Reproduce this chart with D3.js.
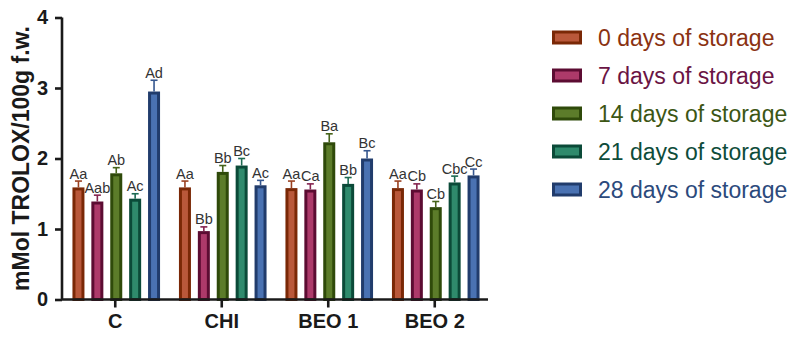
<!DOCTYPE html>
<html>
<head>
<meta charset="utf-8">
<script src="https://cdn.jsdelivr.net/npm/d3@7"></script>
<style>
  html, body { margin: 0; padding: 0; background: #fff; }
  svg { display: block; font-family: "Liberation Sans", Arial, sans-serif; }
</style>
</head>
<body>
<svg id="chart" width="790" height="337"></svg>
<script>
// Antioxidant capacity by treatment and storage time
const categories = ["C", "CHI", "BEO 1", "BEO 2"];
const seriesNames = ["0 days of storage", "7 days of storage", "14 days of storage", "21 days of storage", "28 days of storage"];

// mean values, one array per storage time (order follows categories)
const day0  = [1.59, 1.59, 1.58, 1.58];
const day7  = [1.39, 0.97, 1.56, 1.56];
const day14 = [1.79, 1.81, 2.23, 1.31];
const day21 = [1.43, 1.90, 1.64, 1.66];
const day28 = [2.95, 1.62, 2.00, 1.76];

// standard deviations (upper whisker length)
const sd0  = [0.09, 0.09, 0.10, 0.10];
const sd7  = [0.09, 0.06, 0.08, 0.08];
const sd14 = [0.08, 0.09, 0.12, 0.08];
const sd21 = [0.07, 0.10, 0.09, 0.09];
const sd28 = [0.16, 0.07, 0.11, 0.09];

// significance letters
const letters0  = ["Aa", "Aa", "Aa", "Aa"];
const letters7  = ["Aab", "Bb", "Ca", "Cb"];
const letters14 = ["Ab", "Bb", "Ba", "Cb"];
const letters21 = ["Ac", "Bc", "Bb", "Cbc"];
const letters28 = ["Ad", "Ac", "Bc", "Cc"];

const yTicks = [0, 1, 2, 3, 4];

const means = [day0, day7, day14, day21, day28];
const sds = [sd0, sd7, sd14, sd21, sd28];
const letters = [letters0, letters7, letters14, letters21, letters28];

const edgeColors = ["#7a2806", "#5c0c32", "#2f4a0a", "#0b4a38", "#213c6c"];
const fillColors = ["#b9583a", "#ad3a6a", "#5c7c2a", "#2f8a6c", "#4a72b2"];
const textColors = ["#8a3212", "#6a1444", "#3c5614", "#0e4c3a", "#2c4a7c"];

const svg = d3.select("#chart");

const x0 = 62, x1 = 488, yBottom = 299.5, yTop = 17.5;

const x = d3.scaleBand().domain(categories).range([x0, x1]).paddingInner(0).paddingOuter(0);
const xInner = d3.scaleBand().domain(d3.range(seriesNames.length)).range([0, 87.6]).paddingInner(0.365).paddingOuter(0);
const y = d3.scaleLinear().domain([0, 4]).range([yBottom, yTop]);

const records = [];
categories.forEach((c, ci) => {
  means.forEach((arr, si) => {
    records.push({ cat: c, s: si, v: arr[ci], sd: sds[si][ci], label: letters[si][ci] });
  });
});

const groupLeft = c => x(c) + x.bandwidth() / 2 - 43.8 + 1;

// bars: dark outline with lighter fill
const bw = xInner.bandwidth();
const sw = 3;
svg.append("g").selectAll("rect")
  .data(records).join("rect")
  .attr("x", d => groupLeft(d.cat) + xInner(d.s) + sw / 2)
  .attr("y", d => y(d.v) + sw / 2)
  .attr("width", bw - sw)
  .attr("height", d => y(0) - y(d.v) - sw / 2)
  .attr("fill", d => fillColors[d.s])
  .attr("stroke", d => edgeColors[d.s])
  .attr("stroke-width", sw);

// upper error whiskers
const eg = svg.append("g");
records.forEach(d => {
  const cx = groupLeft(d.cat) + xInner(d.s) + bw / 2;
  const col = d3.interpolateRgb(edgeColors[d.s], fillColors[d.s])(0.5);
  eg.append("line").attr("x1", cx).attr("x2", cx)
    .attr("y1", y(d.v)).attr("y2", y(d.v + d.sd))
    .attr("stroke", col).attr("stroke-width", 1.6);
  eg.append("line").attr("x1", cx - 3.5).attr("x2", cx + 3.5)
    .attr("y1", y(d.v + d.sd)).attr("y2", y(d.v + d.sd))
    .attr("stroke", col).attr("stroke-width", 1.6);
});

// letters above whiskers
svg.append("g").selectAll("text")
  .data(records).join("text")
  .attr("x", d => groupLeft(d.cat) + xInner(d.s) + bw / 2)
  .attr("y", d => y(d.v + d.sd) - 2.5)
  .attr("text-anchor", "middle")
  .attr("font-size", 14.5)
  .attr("fill", "#333")
  .text(d => d.label);

// y axis
const yAxis = svg.append("g").attr("transform", `translate(${x0},0)`)
  .call(d3.axisLeft(y).tickValues(yTicks).tickFormat(d3.format("d")).tickSize(7).tickPadding(7));
yAxis.select(".domain").attr("stroke", "#1a1a1a").attr("stroke-width", 2.6)
  .attr("d", `M0,${yTop}V${yBottom}`);
yAxis.selectAll(".tick line").attr("stroke", "#1a1a1a").attr("stroke-width", 2.6);
yAxis.selectAll(".tick text").attr("font-size", 20).attr("font-weight", "bold").attr("fill", "#1a1a1a")
  .attr("font-family", "Liberation Sans, Arial, sans-serif");

// x axis
const xAxis = svg.append("g").attr("transform", `translate(0,${yBottom})`)
  .call(d3.axisBottom(x).tickSize(8).tickPadding(6));
xAxis.select(".domain").attr("stroke", "#1a1a1a").attr("stroke-width", 2.6)
  .attr("d", `M${x0},0H${x1}`);
xAxis.selectAll(".tick line").attr("stroke", "#1a1a1a").attr("stroke-width", 2.6);
xAxis.selectAll(".tick text").attr("font-size", 20).attr("font-weight", "bold").attr("fill", "#1a1a1a")
  .attr("font-family", "Liberation Sans, Arial, sans-serif");

// y axis title
svg.append("text")
  .attr("transform", `translate(29,${(yTop + yBottom) / 2}) rotate(-90)`)
  .attr("text-anchor", "middle")
  .attr("font-size", 23)
  .attr("font-weight", "bold")
  .attr("fill", "#1a1a1a")
  .text("mMol TROLOX/100g f.w.");

// legend
const legend = svg.append("g");
seriesNames.forEach((name, i) => {
  const cy = 37.5 + i * 38;
  legend.append("rect")
    .attr("x", 553.5).attr("y", cy - 5.5)
    .attr("width", 27).attr("height", 11)
    .attr("fill", fillColors[i]).attr("stroke", edgeColors[i]).attr("stroke-width", 3);
  legend.append("text")
    .attr("x", 598).attr("y", cy + 8)
    .attr("font-size", 23)
    .attr("fill", textColors[i])
    .text(name);
});
</script>
</body>
</html>
